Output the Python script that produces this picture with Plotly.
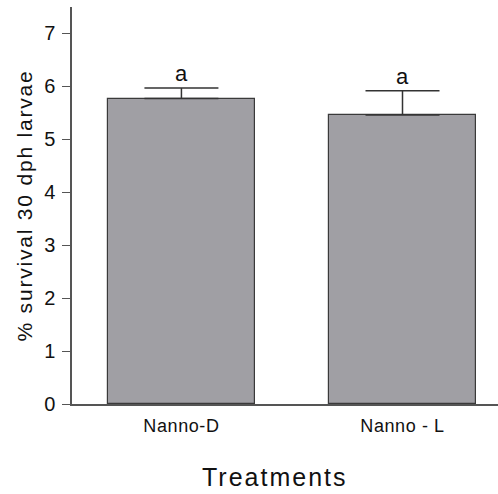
import plotly.graph_objects as go

categories = ["Nanno-D", "Nanno - L"]
survival = [5.77, 5.46]
sem = [0.20, 0.46]
letters = ["a", "a"]
y_ticks = [0, 1, 2, 3, 4, 5, 6, 7]

FONT = "Liberation Sans, Arial"


def spaced(txt, px):
    return '<span style="letter-spacing:%spx">%s</span>' % (px, txt)


fig = go.Figure()
fig.add_trace(go.Bar(
    x=[0, 1], y=survival,
    width=0.665,
    marker=dict(color="#a09fa4", line=dict(color="#3a3a3a", width=1.2)),
    error_y=dict(type="data", array=sem, symmetric=False, arrayminus=[0, 0],
                 color="#333333", thickness=1.5, width=37),
    showlegend=False,
))

for i, (v, e, t) in enumerate(zip(survival, sem, letters)):
    fig.add_annotation(x=i, y=v + e, text=t, showarrow=False, yanchor="bottom",
                       yshift=0, font=dict(size=22, color="#111111", family=FONT))

fig.add_annotation(x=(275 - 72) / 426, y=-(477 - 404) / 397, xref="paper", yref="paper",
                   text=spaced("Treatments", 2), showarrow=False, yanchor="middle",
                   font=dict(size=25, color="#111111", family=FONT))

fig.update_layout(
    width=498, height=494,
    margin=dict(l=72, r=0, t=7, b=90),
    paper_bgcolor="white", plot_bgcolor="white",
    font=dict(family=FONT, color="#111111"),
    bargap=0,
)
fig.update_xaxes(
    range=[-0.495, 1.432], tickmode="array", tickvals=[0, 1],
    ticktext=[spaced(c, 0.6) for c in categories],
    showline=True, linecolor="#555555", linewidth=1.5, ticks="", showgrid=False,
    zeroline=False, tickfont=dict(size=18), ticklabelstandoff=5,
)
fig.update_yaxes(
    range=[0, 7.5], tickvals=y_ticks, showline=True, linecolor="#555555", linewidth=1.5,
    ticks="outside", ticklen=8, tickcolor="#555555", tickwidth=1.2, showgrid=False,
    zeroline=False, tickfont=dict(size=20), ticklabelstandoff=3,
    title=dict(text=spaced("% survival 30 dph larvae", 1.8), font=dict(size=21), standoff=6),
)

fig.write_html("out.html", config={"displayModeBar": False},
               post_script="document.body.style.margin='0';")
